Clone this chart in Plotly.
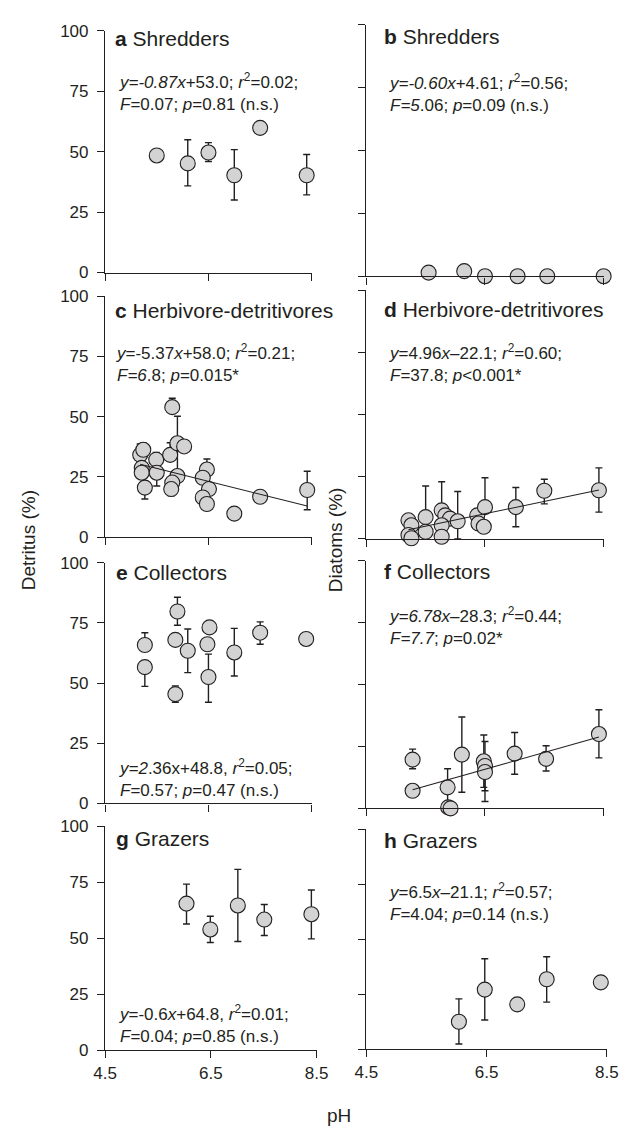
import plotly.graph_objects as go

# ---------------- data ----------------
# a  Shredders - detritus
ph_a = [5.5, 6.1, 6.5, 7.0, 7.5, 8.4]
det_a = [48.4, 45.1, 49.6, 40.2, 59.8, 40.2]
up_a = [0, 9.8, 4.1, 10.6, 0, 8.6]
dn_a = [0, 9.3, 3.7, 10.2, 0, 8.1]

# b  Shredders - diatoms
ph_b = [5.55, 6.15, 6.5, 7.05, 7.55, 8.5]
dia_b = [1.5, 2.1, 0.1, 0.1, 0.1, 0.1]
up_b = [0, 0, 0, 0, 0, 0]
dn_b = [0, 0, 0, 0, 0, 0]

# c  Herbivore-detritivores - detritus
ph_c = [5.18, 5.24, 5.21, 5.21, 5.27, 5.49, 5.50, 5.76, 5.80, 5.90, 5.90,
        6.03, 5.80, 5.78, 6.47, 6.39, 6.51, 6.39, 6.47, 7.0, 7.5, 8.41]
det_c = [34.1, 36.2, 28.7, 26.7, 20.5, 32.1, 26.7, 34.1, 53.9, 38.9, 25.3,
         37.6, 22.6, 19.9, 28.0, 24.6, 19.9, 16.4, 13.7, 9.7, 16.7, 19.5]
up_c = [4.5, 2.7, 0, 0, 0, 3.0, 0, 5.0, 3.7, 11.2, 0,
        0, 0, 0, 4.4, 0, 0, 0, 0, 0, 0, 7.8]
dn_c = [0, 0, 0, 0, 4.7, 0, 5.5, 0, 0, 12.9, 0,
        0, 0, 2.8, 0, 0, 0, 0, 0, 0, 0, 8.2]

# d  Herbivore-detritivores - diatoms
ph_d = [5.21, 5.26, 5.21, 5.26, 5.50, 5.50, 5.77, 5.83, 5.91, 6.04, 5.77,
        5.77, 6.37, 6.39, 6.48, 6.50, 7.02, 7.50, 8.42]
dia_d = [7.5, 5.5, 1.6, 0.3, 8.8, 2.9, 11.5, 9.5, 8.2, 7.1, 5.5,
         0.9, 9.5, 6.2, 4.9, 12.8, 12.8, 19.4, 19.6]
up_d = [0, 0, 0, 0, 12.5, 0, 11.5, 0, 0, 12.0, 0,
        0, 0, 0, 0, 11.8, 7.9, 4.6, 9.0]
dn_d = [0, 0, 0, 0, 0, 0, 0, 0, 0, 7.1, 0,
        0, 0, 0, 0, 0, 7.9, 5.3, 8.8]

# e  Collectors - detritus
ph_e = [5.27, 5.27, 5.90, 5.86, 5.86, 6.10, 6.52, 6.48, 6.50, 7.0, 7.5, 8.39]
det_e = [65.8, 56.6, 79.7, 67.9, 45.4, 63.4, 73.1, 66.1, 52.5, 62.7, 70.9, 68.3]
up_e = [5.1, 0, 5.9, 0, 3.4, 9.0, 0, 0, 9.5, 10.0, 4.5, 0]
dn_e = [0, 8.0, 5.7, 0, 3.4, 9.1, 0, 0, 10.5, 9.8, 4.8, 0]

# f  Collectors - diatoms
ph_f = [5.28, 5.28, 5.87, 5.88, 5.92, 6.11, 6.48, 6.50, 6.50, 7.0, 7.53, 8.42]
dia_f = [19.7, 7.1, 8.5, 0.4, 0.0, 21.7, 19.0, 17.1, 14.7, 22.1, 20.0, 30.0]
up_f = [4.2, 0, 7.5, 0, 0, 15.2, 10.6, 9.9, 0, 8.5, 5.3, 9.8]
dn_f = [3.7, 0, 7.5, 0, 0, 15.2, 10.5, 10.0, 11.9, 8.3, 4.9, 9.6]

# g  Grazers - detritus
ph_g = [6.04, 6.49, 7.01, 7.51, 8.40]
det_g = [65.4, 53.9, 64.6, 58.3, 60.7]
up_g = [8.7, 5.9, 16.1, 6.7, 10.8]
dn_g = [9.1, 5.8, 16.1, 7.1, 11.0]

# h  Grazers - diatoms
ph_h = [6.04, 6.47, 7.01, 7.50, 8.40]
dia_h = [12.5, 27.1, 20.4, 31.8, 30.4]
up_h = [10.4, 14.0, 0, 10.2, 0]
dn_h = [10.1, 13.8, 0, 10.4, 0]

# regressions drawn (significant ones): slope, intercept
reg_c = (-5.37, 58.0)
reg_d = (4.96, -22.1)
reg_f = (6.78, -28.3)

x_ticks = [4.5, 6.5, 8.5]
y_ticks = [0, 25, 50, 75, 100]

titles = {
    "a": "Shredders", "b": "Shredders",
    "c": "Herbivore-detritivores", "d": "Herbivore-detritivores",
    "e": "Collectors", "f": "Collectors",
    "g": "Grazers", "h": "Grazers",
}
stats = {
    "a": ["<i>y=-0.87x</i>+53.0; <i>r</i><sup>2</sup>=0.02;", "<i>F</i>=0.07; <i>p</i>=0.81 (n.s.)"],
    "b": ["<i>y=-0.60x</i>+4.61; <i>r</i><sup>2</sup>=0.56;", "<i>F=5</i>.06; <i>p</i>=0.09 (n.s.)"],
    "c": ["<i>y</i>=-5.37<i>x</i>+58.0; <i>r</i><sup>2</sup>=0.21;", "<i>F=6</i>.8; <i>p</i>=0.015*"],
    "d": ["<i>y</i>=4.96<i>x</i>\u201322.1; <i>r</i><sup>2</sup>=0.60;", "<i>F</i>=37.8; <i>p</i>&lt;0.001*"],
    "e": ["<i>y=2</i>.36x+48.8, <i>r</i><sup>2</sup>=0.05;", "<i>F</i>=0.57; <i>p</i>=0.47 (n.s.)"],
    "f": ["<i>y=6.78x</i>\u201328.3; <i>r</i><sup>2</sup>=0.44;", "<i>F=7.7</i>; <i>p</i>=0.02*"],
    "g": ["<i>y</i>=-0.6<i>x</i>+64.8, <i>r</i><sup>2</sup>=0.01;", "<i>F</i>=0.04; <i>p</i>=0.85 (n.s.)"],
    "h": ["<i>y</i>=6.5<i>x</i>\u201321.1; <i>r</i><sup>2</sup>=0.57;", "<i>F</i>=4.04; <i>p</i>=0.14 (n.s.)"],
}

# ---------------- layout geometry (pixels) ----------------
W, H = 632, 1135
def PX(x): return x / W
def PY(y): return 1 - y / H

FONT = "Liberation Sans, Arial, Helvetica, sans-serif"
INK = "#231f20"

panels = [
    # key, x, y, up, dn, reg, xdom(px), ydom(px: top,bottom), title pos, stat pos (left, center y)
    ("a", ph_a, det_a, up_a, dn_a, None, (96.7, 311.7), (22, 268), (105, 30), (109, 84)),
    ("b", ph_b, dia_b, up_b, dn_b, None, (368.3, 615), (16, 272), (385, 28), (390, 85)),
    ("c", ph_c, det_c, up_c, dn_c, reg_c, (96.7, 311.7), (292, 537), (105, 307), (106, 360)),
    ("d", ph_d, dia_d, up_d, dn_d, reg_d, (368.3, 615), (286, 539), (385, 306), (390, 360)),
    ("e", ph_e, det_e, up_e, dn_e, None, (96.7, 311.7), (563, 808), (106, 573), (109, 782)),
    ("f", ph_f, dia_f, up_f, dn_f, reg_f, (368.3, 615), (561, 813), (385, 572), (390, 628)),
    ("g", ph_g, det_g, up_g, dn_g, None, (96.7, 316.7), (831, 1059), (106, 844), (109, 1032)),
    ("h", ph_h, dia_h, up_h, dn_h, None, (368.3, 618.3), (834, 1058), (385, 846), (390, 908)),
]

fig = go.Figure()
annotations = []
layout_axes = {}

for i, (key, xs, ys, up, dn, reg, xdom, ydom, tpos, spos) in enumerate(panels):
    n = i + 1
    xa = "x" if n == 1 else f"x{n}"
    ya = "y" if n == 1 else f"y{n}"
    xname = "xaxis" if n == 1 else f"xaxis{n}"
    yname = "yaxis" if n == 1 else f"yaxis{n}"
    left_col = key in "aceg"
    bottom_row = key in "gh"

    fig.add_trace(go.Scatter(
        x=xs, y=ys, mode="markers", xaxis=xa, yaxis=ya, showlegend=False,
        cliponaxis=False,
        marker=dict(size=15, color="#d3d3d3", line=dict(color=INK, width=1.1)),
        error_y=dict(type="data", symmetric=False, array=up, arrayminus=dn,
                     color=INK, thickness=1.4, width=3.5),
    ))
    if reg is not None:
        x0, x1 = min(xs), max(xs)
        fig.add_trace(go.Scatter(
            x=[x0, x1], y=[reg[0] * x0 + reg[1], reg[0] * x1 + reg[1]],
            mode="lines", xaxis=xa, yaxis=ya, showlegend=False,
            line=dict(color=INK, width=1.1),
        ))

    layout_axes[xname] = dict(
        domain=[PX(xdom[0]), PX(xdom[1])], range=[4.5, 8.5], anchor=ya,
        tickvals=x_ticks, ticktext=[f"{v}" for v in x_ticks],
        ticks="outside", ticklen=7, tickwidth=1.2, tickcolor=INK,
        showline=True, linecolor=INK, linewidth=1.2,
        showgrid=False, zeroline=False, showticklabels=bottom_row,
        tickfont=dict(family=FONT, size=17, color=INK),
    )
    layout_axes[yname] = dict(
        domain=[PY(ydom[1]), PY(ydom[0])], range=[0, 100], anchor=xa,
        tickvals=y_ticks, ticks="outside", ticklen=7, tickwidth=1.2, tickcolor=INK,
        showline=True, linecolor=INK, linewidth=1.2,
        showgrid=False, zeroline=False, showticklabels=left_col,
        ticklabelstandoff=5,
        tickfont=dict(family=FONT, size=17, color=INK),
    )

    annotations.append(dict(
        text=f"<b>{key}</b> {titles[key]}", xref="paper", yref="paper",
        x=PX(tpos[0]), y=PY(tpos[1]), xanchor="left", yanchor="middle",
        showarrow=False, font=dict(family=FONT, size=21, color=INK),
    ))
    annotations.append(dict(
        text="<br>".join(stats[key]), xref="paper", yref="paper",
        x=PX(spos[0]), y=PY(spos[1]), xanchor="left", yanchor="middle",
        align="left", showarrow=False,
        font=dict(family=FONT, size=17, color=INK),
    ))

annotations += [
    dict(text="Detritus (%)", xref="paper", yref="paper", x=PX(18), y=PY(540),
         xanchor="center", yanchor="middle", textangle=-90, showarrow=False,
         font=dict(family=FONT, size=19, color=INK)),
    dict(text="Diatoms (%)", xref="paper", yref="paper", x=PX(337), y=PY(540),
         xanchor="center", yanchor="middle", textangle=-90, showarrow=False,
         font=dict(family=FONT, size=19, color=INK)),
    dict(text="pH", xref="paper", yref="paper", x=PX(340), y=PY(1125),
         xanchor="center", yanchor="middle", showarrow=False,
         font=dict(family=FONT, size=19, color=INK)),
]

fig.update_layout(
    width=W, height=H, margin=dict(l=0, r=0, t=0, b=0),
    paper_bgcolor="white", plot_bgcolor="white",
    annotations=annotations, **layout_axes,
)

fig.write_html(
    "out.html",
    config={"displayModeBar": False},
    post_script="document.body.style.margin='0px';document.body.style.overflow='hidden';",
)
